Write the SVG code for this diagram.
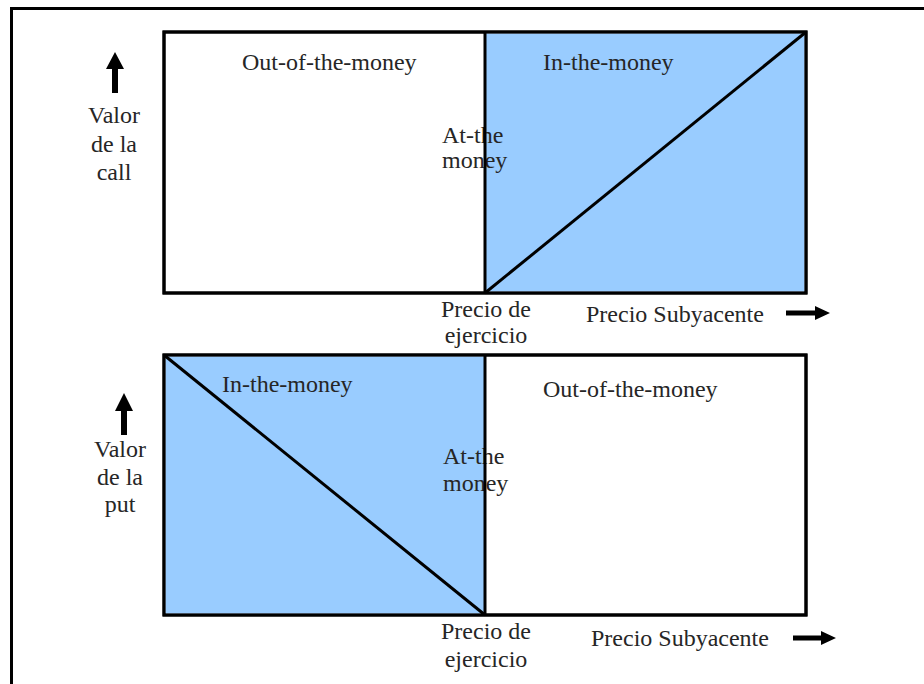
<svg xmlns="http://www.w3.org/2000/svg" width="924" height="684" viewBox="0 0 924 684">
<style>
text{font-family:"Liberation Serif","Times New Roman",serif;font-size:24px;fill:#262626;}
.box{fill:#fff;stroke:#000;stroke-width:3;}
.frame{fill:none;stroke:#000;stroke-width:3;}
.itm{fill:#99ccff;stroke:none;}
.ln{stroke:#000;stroke-width:3;fill:none;}
.arr{fill:#000;stroke:none;}
.mid{text-anchor:middle;}
</style>
<rect x="0" y="0" width="924" height="684" fill="#fff"/>
<path d="M11.5 690 V8.5 H930" fill="none" stroke="#000" stroke-width="3"/>

<g id="call-chart">
  <rect class="box" x="164" y="32" width="642" height="261"/>
  <rect class="itm" x="485" y="33.5" width="319.5" height="258"/>
  <text x="242" y="70">Out-of-the-money</text>
  <text x="543" y="70">In-the-money</text>
  <text x="442" y="143">At-the</text>
  <text x="442" y="168">money</text>
  <rect class="frame" x="164" y="32" width="642" height="261"/>
  <line class="ln" x1="485" y1="32" x2="485" y2="293"/>
  <line class="ln" x1="485" y1="293" x2="806" y2="32"/>
</g>

<g id="put-chart">
  <rect class="box" x="164" y="355" width="642" height="260"/>
  <rect class="itm" x="165.5" y="356.5" width="319.5" height="257"/>
  <text x="222" y="392">In-the-money</text>
  <text x="543" y="397">Out-of-the-money</text>
  <text x="443" y="464">At-the</text>
  <text x="443" y="491">money</text>
  <rect class="frame" x="164" y="355" width="642" height="260"/>
  <line class="ln" x1="485" y1="355" x2="485" y2="615"/>
  <line class="ln" x1="164" y1="355" x2="485" y2="615"/>
</g>

<g id="call-axis-labels">
  <text class="mid" x="114" y="123">Valor</text>
  <text class="mid" x="114" y="152">de la</text>
  <text class="mid" x="114" y="180">call</text>
  <text class="mid" x="486" y="317">Precio de</text>
  <text class="mid" x="486" y="343">ejercicio</text>
  <text x="586" y="322">Precio Subyacente</text>
</g>

<g id="put-axis-labels">
  <text class="mid" x="120" y="457">Valor</text>
  <text class="mid" x="120" y="485">de la</text>
  <text class="mid" x="120" y="512">put</text>
  <text class="mid" x="486" y="639">Precio de</text>
  <text class="mid" x="486" y="667">ejercicio</text>
  <text x="591" y="646">Precio Subyacente</text>
</g>

<g id="connectors">
  <path class="arr" d="M115 52 L124 69 L118 69 L118 93 L112 93 L112 69 L106 69 Z"/>
  <path class="arr" d="M124 393 L133 411 L127 411 L127 435 L121 435 L121 411 L115 411 Z"/>
  <path class="arr" d="M830 313 L815 320 L815 315.5 L786 315.5 L786 310.5 L815 310.5 L815 306 Z"/>
  <path class="arr" d="M836 638 L821 645 L821 640.5 L793 640.5 L793 635.5 L821 635.5 L821 631 Z"/>
</g>
</svg>
